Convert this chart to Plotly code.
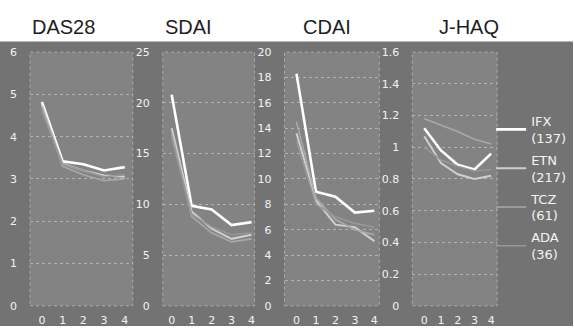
import plotly.graph_objects as go

# ---- data ----
visits = [0, 1, 2, 3, 4]
panels = ["DAS28", "SDAI", "CDAI", "J-HAQ"]
drugs = ["IFX", "ETN", "TCZ", "ADA"]
counts = [137, 217, 61, 36]

das28_ifx = [4.82, 3.42, 3.35, 3.20, 3.28]
das28_etn = [4.75, 3.36, 3.20, 3.08, 3.05]
das28_tcz = [4.70, 3.30, 3.10, 2.96, 3.00]
das28_ada = [4.60, 3.35, 3.20, 3.05, 3.10]

sdai_ifx = [20.8, 9.85, 9.5, 7.95, 8.25]
sdai_etn = [17.5, 9.3, 7.6, 6.6, 7.0]
sdai_tcz = [17.0, 8.8, 7.2, 6.3, 6.6]
sdai_ada = [16.5, 9.0, 7.8, 7.0, 7.2]

cdai_ifx = [18.3, 9.0, 8.6, 7.35, 7.5]
cdai_etn = [13.6, 8.3, 6.4, 6.2, 5.1]
cdai_tcz = [14.5, 8.5, 6.8, 6.0, 5.6]
cdai_ada = [13.0, 8.0, 7.0, 6.5, 6.2]

jhaq_ifx = [1.12, 0.98, 0.89, 0.86, 0.96]
jhaq_etn = [1.07, 0.90, 0.83, 0.80, 0.82]
jhaq_tcz = [1.18, 1.14, 1.10, 1.05, 1.02]
jhaq_ada = [1.00, 0.92, 0.88, 0.85, 0.86]

y_ranges = [[0, 6], [0, 25], [0, 20], [0, 1.6]]
y_dticks = [1, 5, 2, 0.2]

# ---- styling ----
W, H = 574, 333
line_colors = ["#ffffff", "#cfcfcf", "#a9a9a9", "#979797"]
line_widths = [2.6, 2.0, 1.6, 1.6]
# plot areas in pixels (left, right)
areas_px = [(30, 133), (163, 255), (285, 380), (413, 498)]
zero_px = [42, 172, 297, 425]
unit_px = [20.75, 20.0, 19.5, 16.75]
top_px, bot_px = 48, 312
title_cx = [64, 189, 328, 470]

data = [
    [das28_ifx, das28_etn, das28_tcz, das28_ada],
    [sdai_ifx, sdai_etn, sdai_tcz, sdai_ada],
    [cdai_ifx, cdai_etn, cdai_tcz, cdai_ada],
    [jhaq_ifx, jhaq_etn, jhaq_tcz, jhaq_ada],
]

fig = go.Figure()
tickfont = dict(family="DejaVu Sans", size=11, color="#f2f2f2")
layout = {}
shapes = [
    dict(type="rect", xref="paper", yref="paper", x0=0, x1=1, y0=0, y1=1 - 37 / H,
         fillcolor="#737373", line=dict(width=0), layer="below"),
]
annotations = []
for p in range(4):
    sfx = "" if p == 0 else str(p + 1)
    l, r = areas_px[p]
    xr = [(l - zero_px[p]) / unit_px[p], (r - zero_px[p]) / unit_px[p]]
    layout["xaxis" + sfx] = dict(
        domain=[l / W, r / W], range=xr, anchor="y" + sfx,
        tickvals=visits, ticktext=[str(v) for v in visits],
        showgrid=False, zeroline=False, showline=False, ticks="",
        tickfont=tickfont, ticklabelstandoff=6, fixedrange=True,
    )
    layout["yaxis" + sfx] = dict(
        domain=[1 - bot_px / H, 1 - top_px / H], range=y_ranges[p], anchor="x" + sfx,
        dtick=y_dticks[p], showgrid=True, gridcolor="rgba(225,225,225,0.5)",
        griddash="dot", gridwidth=1, zeroline=False, showline=False, ticks="",
        tickfont=tickfont, ticklabelstandoff=12, fixedrange=True,
    )
    shapes.append(dict(type="rect", xref="x" + sfx + " domain", yref="y" + sfx + " domain",
                       x0=0, x1=1, y0=0, y1=1, fillcolor="#838383",
                       line=dict(color="rgba(220,220,220,0.5)", width=1, dash="dot"),
                       layer="below"))
    annotations.append(dict(text=panels[p], x=title_cx[p] / W, y=1 - 22 / H,
                            xref="paper", yref="paper", showarrow=False,
                            xanchor="center", yanchor="middle",
                            font=dict(family="Liberation Sans", size=20, color="#1e1e1e")))
    for d in range(4):
        fig.add_trace(go.Scatter(
            x=visits, y=data[p][d], mode="lines",
            name=f"{drugs[d]}<br>({counts[d]})",
            legendgroup=drugs[d], showlegend=(p == 3),
            line=dict(color=line_colors[d], width=line_widths[d]),
            xaxis="x" + sfx, yaxis="y" + sfx,
        ))

fig.update_layout(
    **layout,
    width=W, height=H,
    margin=dict(l=0, r=0, t=0, b=0),
    paper_bgcolor="#ffffff",
    plot_bgcolor="rgba(0,0,0,0)",
    shapes=shapes,
    annotations=annotations,
    showlegend=True,
    legend=dict(x=492 / W, y=1 - 104 / H, xanchor="left", yanchor="top",
                bgcolor="rgba(0,0,0,0)", font=dict(family="DejaVu Sans", size=13, color="#f4f4f4"),
                tracegroupgap=2, itemwidth=30),
)

fig.write_html("out.html")
